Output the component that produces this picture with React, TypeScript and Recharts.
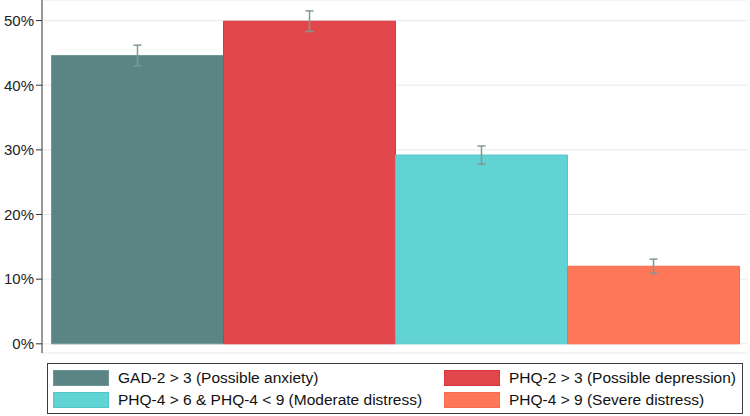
import { BarChart, Bar, XAxis, YAxis, CartesianGrid, Legend, ErrorBar } from "recharts";

const groups = [
  "GAD-2 > 3 (Possible anxiety)",
  "PHQ-2 > 3 (Possible depression)",
  "PHQ-4 > 6 & PHQ-4 < 9 (Moderate distress)",
  "PHQ-4 > 9 (Severe distress)",
];
const shares = [44.6, 49.9, 29.2, 12.0];
const errors = [1.6, 1.6, 1.4, 1.1];
const yTicks = [0, 10, 20, 30, 40, 50];

const fills = ["#5a8584", "#e2474b", "#62d3d4", "#ff7759"];
const edges = ["#6f9896", "#d8383d", "#55c6c7", "#f76c4e"];

const FONT = '"Liberation Sans", Arial, Helvetica, sans-serif';

const row: Record<string, string | number> = { name: "all" };
shares.forEach((v, i) => {
  row[`s${i}`] = v;
  row[`e${i}`] = errors[i];
});
const data = [row];

function LegendBox() {
  return (
    <div style={{ paddingTop: 10, boxSizing: "border-box", height: 61 }}>
      <div
        style={{
          height: 51,
          boxSizing: "border-box",
          border: "1px solid #3a3a3a",
          display: "grid",
          gridTemplateColumns: "391px 1fr",
          rowGap: 6,
          padding: "6px 0 0 5px",
          fontFamily: FONT,
          fontSize: 15.5,
          color: "#111",
          alignContent: "start",
        }}
      >
        {groups.map((g, i) => (
          <div key={g} style={{ display: "flex", alignItems: "center", height: 16 }}>
            <span
              style={{
                width: 56,
                height: 16,
                boxSizing: "border-box",
                background: fills[i],
                border: `1px solid ${edges[i]}`,
                marginRight: 9,
                flex: "none",
              }}
            />
            <span style={{ whiteSpace: "nowrap" }}>{g}</span>
          </div>
        ))}
      </div>
    </div>
  );
}

export default function App() {
  return (
    <div style={{ position: "absolute", left: 0, top: 0, background: "#fff" }}>
      <BarChart
        width={750}
        height={416}
        data={data}
        margin={{ top: 0, right: 3, bottom: 2, left: 0 }}
        barGap={0}
        barCategoryGap={9.5}
      >
        <CartesianGrid vertical={false} stroke="#e9e9e9" />
        <XAxis
          dataKey="name"
          tick={false}
          tickLine={false}
          height={0}
          axisLine={{ stroke: "#333", strokeWidth: 1 }}
        />
        <YAxis
          width={42}
          domain={[-1.42, 53.18]}
          ticks={yTicks}
          allowDataOverflow
          tickFormatter={(v) => `${v}%`}
          tick={{ fill: "#222", fontSize: 15, fontFamily: FONT }}
          tickSize={6}
          tickMargin={2}
          tickLine={{ stroke: "#333" }}
          axisLine={{ stroke: "#333", strokeWidth: 1 }}
        />
        <Legend
          verticalAlign="bottom"
          content={() => <LegendBox />}
          wrapperStyle={{ left: 47, width: 696, height: 61 }}
        />
        {groups.map((g, i) => (
          <Bar
            key={g}
            dataKey={`s${i}`}
            name={g}
            fill={fills[i]}
            stroke={edges[i]}
            strokeWidth={1}
            isAnimationActive={false}
          >
            <ErrorBar dataKey={`e${i}`} width={4} stroke="#7d9a92" strokeWidth={1.5} />
          </Bar>
        ))}
      </BarChart>
    </div>
  );
}
